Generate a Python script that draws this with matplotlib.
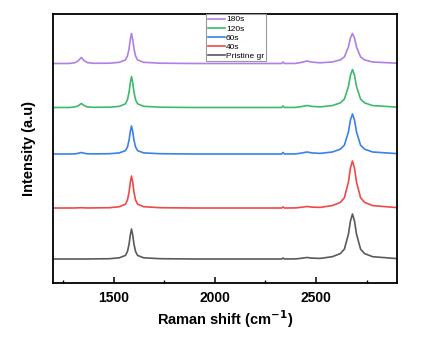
import matplotlib
matplotlib.use('Agg')
import matplotlib.pyplot as plt
from matplotlib.ticker import MultipleLocator

plt.rcParams['font.family'] = ['Liberation Sans', 'DejaVu Sans']

# Raman shift grid (cm-1), shared by all spectra
shift = [1200, 1280, 1310, 1325, 1340, 1355, 1370, 1400, 1480, 1528, 1558, 1568,
         1576, 1582, 1588, 1594, 1600, 1608, 1618, 1648, 1730, 1900, 2100, 2300,
         2330, 2337, 2344, 2400, 2430, 2455, 2480, 2520, 2580, 2620, 2640, 2660,
         2670, 2680, 2690, 2700, 2720, 2740, 2780, 2900]

# intensities (a.u.), before stacking
pristine = [0, 0, 0, 0, 0, 0, 0, 0.1, 0.3, 1.2, 3.6, 7.5,
            15, 24, 30, 24, 15, 7.5, 3.6, 1.2, 0.3, 0, 0, 0,
            0, 1, 0, 0.1, 0.8, 1.5, 0.9, 0.6, 2.3, 5.4, 9.9, 24.8,
            38, 45, 38, 24.8, 9.9, 5.4, 2.3, 0.4]
s40 = [0, 0, 0.05, 0.15, 0.3, 0.15, 0.05, 0.1, 0.3, 1.3, 3.8, 8,
       16, 25.6, 32, 25.6, 16, 8, 3.8, 1.3, 0.3, 0, 0, 0,
       0, 1, 0, 0.1, 0.8, 1.5, 0.9, 0.6, 2.4, 5.6, 10.3, 25.9,
       40, 47, 40, 25.9, 10.3, 5.6, 2.4, 0.4]
s60 = [0, 0, 0.2, 0.7, 1.5, 0.7, 0.2, 0.1, 0.3, 1.1, 3.4, 7,
       14, 22.4, 28, 22.4, 14, 7, 3.4, 1.1, 0.3, 0, 0, 0,
       0, 1.5, 0, 0.1, 1, 2, 1.1, 0.6, 2, 4.8, 8.8, 22,
       34, 40, 34, 22, 8.8, 4.8, 2, 0.4]
s120 = [0, 0, 0.6, 1.8, 4, 1.8, 0.6, 0.2, 0.3, 1.2, 3.7, 7.8,
        15.5, 24.8, 31, 24.8, 15.5, 7.8, 3.7, 1.2, 0.3, 0, 0, 0,
        0, 1.5, 0, 0.1, 1, 2, 1.1, 0.6, 1.9, 4.6, 8.4, 20.9,
        32.3, 38, 32.3, 20.9, 8.4, 4.6, 1.9, 0.4]
s180 = [0, 0, 0.9, 2.7, 6, 2.7, 0.9, 0.2, 0.3, 1.2, 3.6, 7.5,
        15, 24, 30, 24, 15, 7.5, 3.6, 1.2, 0.3, 0, 0, 0,
        0, 1.5, 0, 0.1, 1.2, 2.5, 1.4, 0.7, 1.5, 3.6, 6.6, 16.5,
        25.5, 30, 25.5, 16.5, 6.6, 3.6, 1.5, 0.3]

labels = ['180s', '120s', '60s', '40s', 'Pristine gr']
series = [s180, s120, s60, s40, pristine]
colors = ['#b07fe6', '#3dba6c', '#3a80ef', '#f24848', '#5a5a5a']
offsets = [219.5, 175.5, 129, 75, 24]

fig = plt.figure(figsize=(4.23, 3.43), dpi=100)
ax = fig.add_axes([0.1253, 0.1749, 0.8132, 0.7843])

for y, lab, c, off in zip(series, labels, colors, offsets):
    ax.plot(shift, [v + off for v in y], color=c, lw=1.2, label=lab)

ax.set_xlim(1200, 2900)
ax.set_ylim(0, 269)
ax.set_yticks([])
ax.xaxis.set_major_locator(MultipleLocator(500))
ax.xaxis.set_minor_locator(MultipleLocator(250))
ax.tick_params(axis='x', which='major', direction='in', length=4, width=1.1,
               labelsize=10, pad=6)
ax.tick_params(axis='x', which='minor', direction='in', length=2.5, width=1.0)
for lbl in ax.get_xticklabels():
    lbl.set_fontweight('bold')
for sp in ax.spines.values():
    sp.set_linewidth(1.3)

ax.set_xlabel('Raman shift (cm$^{\\mathbf{-1}}$)', fontsize=10.5,
              fontweight='bold', labelpad=2)
ax.set_ylabel('Intensity (a.u)', fontsize=10.5, fontweight='bold', labelpad=12)

leg = ax.legend(loc='upper left', bbox_to_anchor=(0.445, 1.0), borderaxespad=0,
                fontsize=6, labelspacing=0.15, handlelength=2.1, handletextpad=0.1,
                borderpad=0.2, fancybox=False, framealpha=1, edgecolor='#999999')
leg.get_frame().set_linewidth(0.8)

fig.savefig('out.png', dpi=100)
